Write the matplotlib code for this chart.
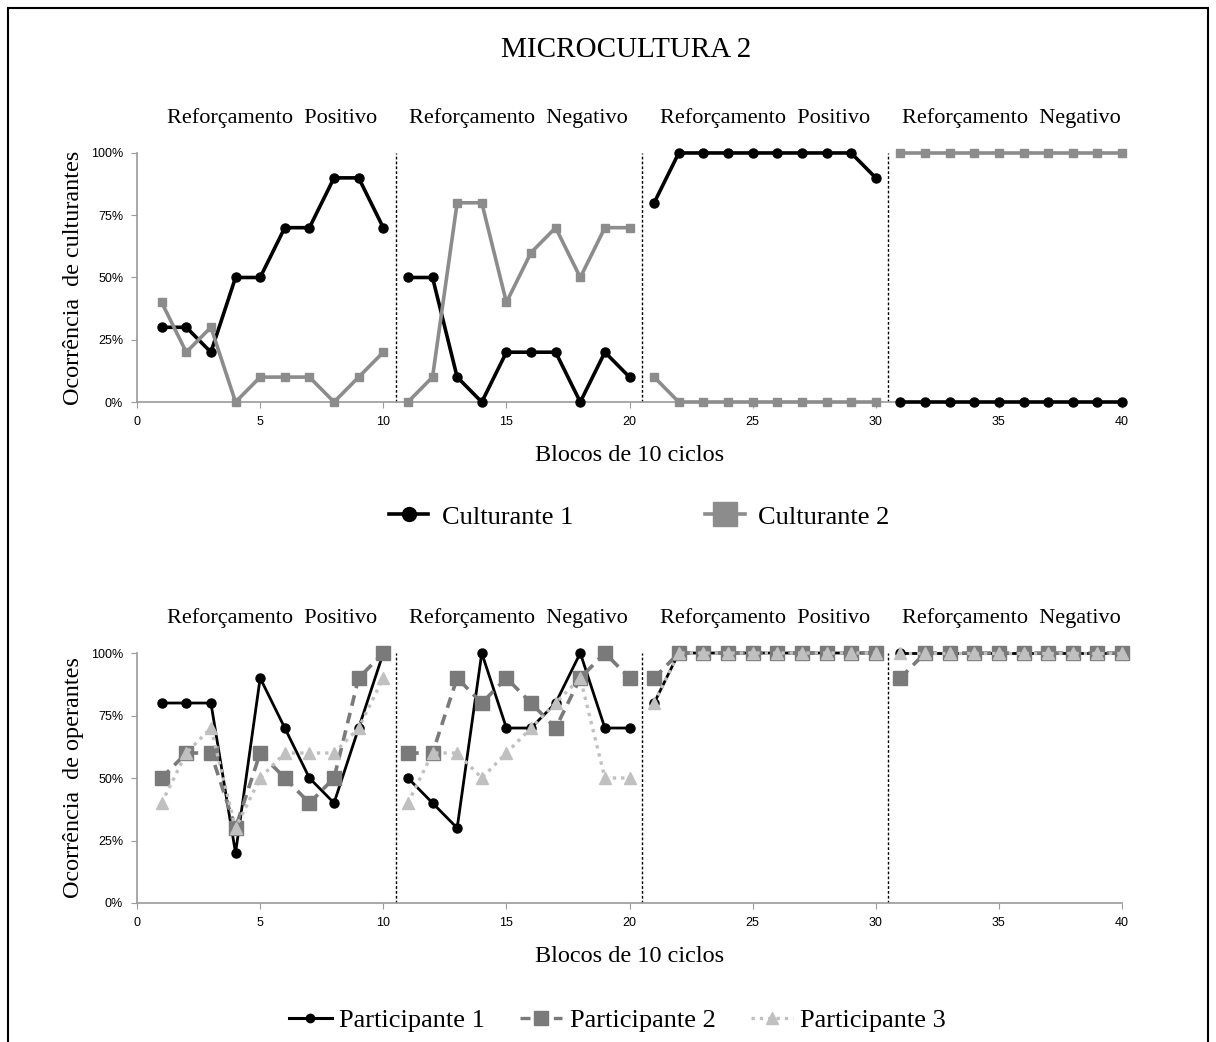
import matplotlib.pyplot as plt
from matplotlib.lines import Line2D
from matplotlib.patches import Rectangle
from matplotlib.ticker import PercentFormatter

blocks = list(range(1, 41))

# culturantes (%)
cult1 = [30, 30, 20, 50, 50, 70, 70, 90, 90, 70,
         50, 50, 10, 0, 20, 20, 20, 0, 20, 10,
         80, 100, 100, 100, 100, 100, 100, 100, 100, 90,
         0, 0, 0, 0, 0, 0, 0, 0, 0, 0]
cult2 = [40, 20, 30, 0, 10, 10, 10, 0, 10, 20,
         0, 10, 80, 80, 40, 60, 70, 50, 70, 70,
         10, 0, 0, 0, 0, 0, 0, 0, 0, 0,
         100, 100, 100, 100, 100, 100, 100, 100, 100, 100]

# operantes (%)
part1 = [80, 80, 80, 20, 90, 70, 50, 40, 70, 100,
         50, 40, 30, 100, 70, 70, 80, 100, 70, 70,
         80, 100, 100, 100, 100, 100, 100, 100, 100, 100,
         100, 100, 100, 100, 100, 100, 100, 100, 100, 100]
part2 = [50, 60, 60, 30, 60, 50, 40, 50, 90, 100,
         60, 60, 90, 80, 90, 80, 70, 90, 100, 90,
         90, 100, 100, 100, 100, 100, 100, 100, 100, 100,
         90, 100, 100, 100, 100, 100, 100, 100, 100, 100]
part3 = [40, 60, 70, 30, 50, 60, 60, 60, 70, 90,
         40, 60, 60, 50, 60, 70, 80, 90, 50, 50,
         80, 100, 100, 100, 100, 100, 100, 100, 100, 100,
         100, 100, 100, 100, 100, 100, 100, 100, 100, 100]

phases = ['Reforçamento  Positivo', 'Reforçamento  Negativo',
          'Reforçamento  Positivo', 'Reforçamento  Negativo']
phase_centers = [5.5, 15.5, 25.5, 35.5]
phase_breaks = [10.5, 20.5, 30.5]

serif = 'Liberation Serif'
sans = 'Liberation Sans'

fig = plt.figure(figsize=(12.16, 10.42), dpi=100)
fig.patches.append(Rectangle((8 / 1216, -0.01), 1200 / 1216, 1.01 - 8 / 1042,
                             transform=fig.transFigure, fill=False,
                             edgecolor='black', linewidth=1.5))
fig.text(0.515, 1 - 50 / 1042, 'MICROCULTURA 2', family=serif, fontsize=21,
         ha='center', va='center')

ax1 = fig.add_axes([0.1127, 0.6142, 0.81, 0.2390])
ax2 = fig.add_axes([0.1127, 0.1334, 0.81, 0.2399])


def segments(ax, y, **kw):
    # each phase is drawn as its own line
    for k in range(4):
        xs = blocks[k * 10:(k + 1) * 10]
        ys = [v / 100 for v in y[k * 10:(k + 1) * 10]]
        ax.plot(xs, ys, clip_on=False, **kw)


segments(ax1, cult1, color='black', lw=2.6, marker='o', ms=6.5, zorder=3)
segments(ax1, cult2, color='#8c8c8c', lw=2.6, marker='s', ms=6, zorder=4)

segments(ax2, part1, color='black', lw=2, marker='o', ms=6.5, zorder=3)
segments(ax2, part2, color='#7a7a7a', lw=2.6, ls=(0, (3, 2)), marker='s', ms=10, zorder=4)
segments(ax2, part3, color='#c0c0c0', lw=2.4, ls=(0, (1, 1.5)), marker='^', ms=9, zorder=5)

for ax, ylab in [(ax1, 'Ocorrência  de culturantes'), (ax2, 'Ocorrência  de operantes')]:
    ax.set_xlim(0, 40)
    ax.set_ylim(0, 1)
    ax.set_xticks(range(0, 41, 5))
    ax.set_yticks([0, 0.25, 0.5, 0.75, 1.0])
    ax.yaxis.set_major_formatter(PercentFormatter(1.0, decimals=0))
    for lab in ax.get_xticklabels() + ax.get_yticklabels():
        lab.set_fontfamily(sans)
    ax.tick_params(labelsize=9, color='#9a9a9a', length=4, pad=6)
    for s in ['top', 'right']:
        ax.spines[s].set_visible(False)
    for s in ['left', 'bottom']:
        ax.spines[s].set_color('#9a9a9a')
        ax.spines[s].set_linewidth(1.2)
    ax.set_xlabel('Blocos de 10 ciclos', family=serif, fontsize=17.5, labelpad=12)
    ax.set_ylabel(ylab, family=serif, fontsize=17.4, labelpad=5)
    for b in phase_breaks:
        ax.axvline(b, ymin=0, ymax=1, color='black', lw=1, ls=(0, (2, 1.5)), zorder=2)
    for c, t in zip(phase_centers, phases):
        ax.text(c, 1.14, t, family=serif, fontsize=16, ha='center', va='center',
                transform=ax.get_xaxis_transform())

h1 = [Line2D([], [], color='black', lw=2.6, marker='o', ms=10),
      Line2D([], [], color='#8c8c8c', lw=2.6, marker='s', ms=17)]
fig.legend(h1, ['Culturante 1', 'Culturante 2'], loc='center', bbox_to_anchor=(0.5255, 0.504),
           ncol=2, frameon=False, prop={'family': serif, 'size': 19},
           handlelength=1.5, columnspacing=5, handletextpad=0.5)

h2 = [Line2D([], [], color='black', lw=2.2, marker='o', ms=6),
      Line2D([], [], color='#7a7a7a', lw=2.4, ls=(0, (3, 2)), marker='s', ms=10),
      Line2D([], [], color='#c0c0c0', lw=2.4, ls=(0, (1, 1.5)), marker='^', ms=9)]
fig.legend(h2, ['Participante 1', 'Participante 2', 'Participante 3'], loc='center',
           bbox_to_anchor=(0.508, 0.021), ncol=3, frameon=False,
           prop={'family': serif, 'size': 19},
           handlelength=1.6, columnspacing=1.35, handletextpad=0.27)

fig.savefig('out.png', dpi=100)
